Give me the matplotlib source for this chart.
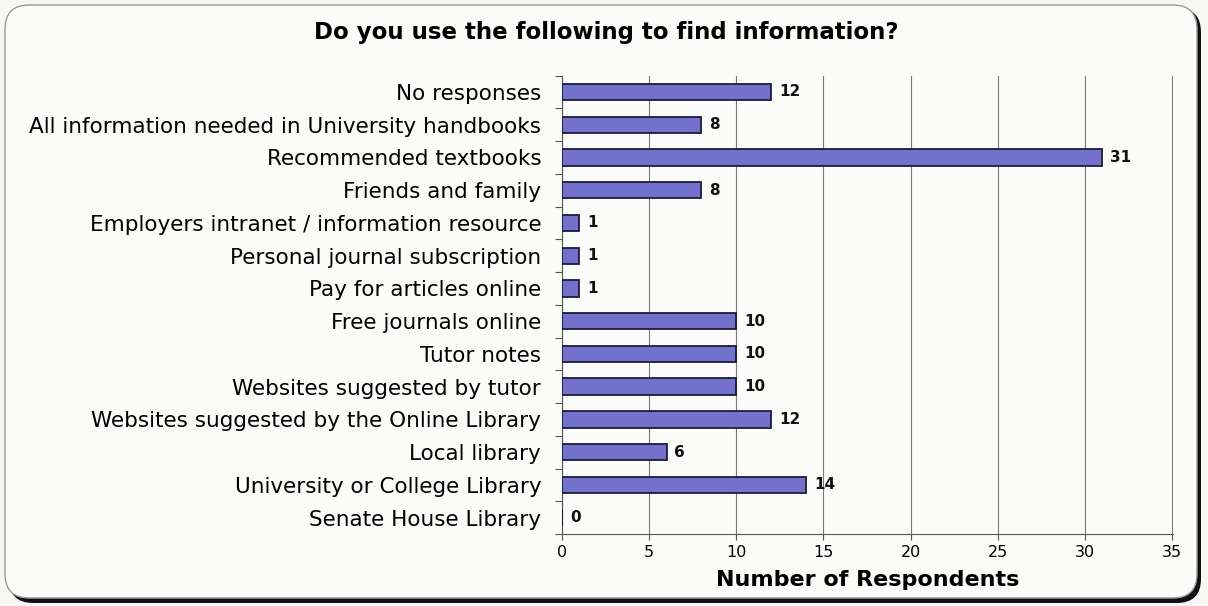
import matplotlib.pyplot as plt
from matplotlib.patches import FancyBboxPatch
import numpy as np

sources = [
    "No responses",
    "All information needed in University handbooks",
    "Recommended textbooks",
    "Friends and family",
    "Employers intranet / information resource",
    "Personal journal subscription",
    "Pay for articles online",
    "Free journals online",
    "Tutor notes",
    "Websites suggested by tutor",
    "Websites suggested by the Online Library",
    "Local library",
    "University or College Library",
    "Senate House Library",
]
respondents = [12, 8, 31, 8, 1, 1, 1, 10, 10, 10, 12, 6, 14, 0]
x_ticks = [0, 5, 10, 15, 20, 25, 30, 35]

plt.rcParams['font.family'] = ['DejaVu Sans']

fig = plt.figure(figsize=(12.08, 6.06), dpi=100)
fig.patch.set_facecolor('#f7f7f5')

# rounded chart frame with a dark drop shadow on the right and bottom
W, H = 1208.0, 606.0
shadow = FancyBboxPatch((9 / W, 3 / H), 1192 / W, 595 / H,
                        boxstyle="round,pad=0,rounding_size=0.02",
                        transform=fig.transFigure, facecolor='#111111',
                        edgecolor='none', zorder=0, mutation_aspect=W / H)
frame = FancyBboxPatch((5 / W, 8 / H), 1192 / W, 593 / H,
                       boxstyle="round,pad=0,rounding_size=0.02",
                       transform=fig.transFigure, facecolor='#fbfbf9',
                       edgecolor='#9a9a9a', linewidth=1.0, zorder=0,
                       mutation_aspect=W / H)
fig.patches.extend([shadow, frame])

ax = fig.add_axes([562 / W, 1 - 534 / H, 611 / W, (534 - 75.6) / H])
ax.set_zorder(2)
ax.set_facecolor('none')

y = np.arange(len(sources))
ax.barh(y, respondents, height=0.5, color='#7272cc', edgecolor='#1c1c3a',
        linewidth=1.3, zorder=3)

for yi, v in zip(y, respondents):
    ax.text(v + 0.45, yi, str(v), va='center', ha='left', fontsize=11,
            fontweight='bold', color='#111111', zorder=4)

ax.set_xlim(0, 35.05)
ax.set_ylim(len(sources) - 0.5, -0.5)
ax.set_xticks(x_ticks)
ax.set_xticklabels([str(t) for t in x_ticks], fontsize=11.5)
ax.set_yticks(y)
ax.set_yticklabels(sources, fontsize=15.5)
ax.set_yticks(np.arange(len(sources) + 1) - 0.5, minor=True)
ax.tick_params(axis='y', which='major', length=0, pad=15)
ax.tick_params(axis='y', which='minor', length=5, width=0.8, color='#555555')
ax.tick_params(axis='x', length=4, width=0.8, color='#555555', pad=4)

ax.xaxis.grid(True, color='#7a7a7a', linewidth=0.8, zorder=0)
ax.set_axisbelow(True)
for side in ('top', 'right'):
    ax.spines[side].set_visible(False)
for side in ('left', 'bottom'):
    ax.spines[side].set_color('#555555')
    ax.spines[side].set_linewidth(0.8)

ax.set_xlabel("Number of Respondents", fontsize=16, fontweight='bold',
              labelpad=7)
title = fig.text(0.502, 1 - 32 / H, "Do you use the following to find information?",
                 ha='center', va='center', fontsize=16.5, fontweight='bold')
title.set_zorder(3)

fig.savefig("out.png", dpi=100, facecolor=fig.get_facecolor())
